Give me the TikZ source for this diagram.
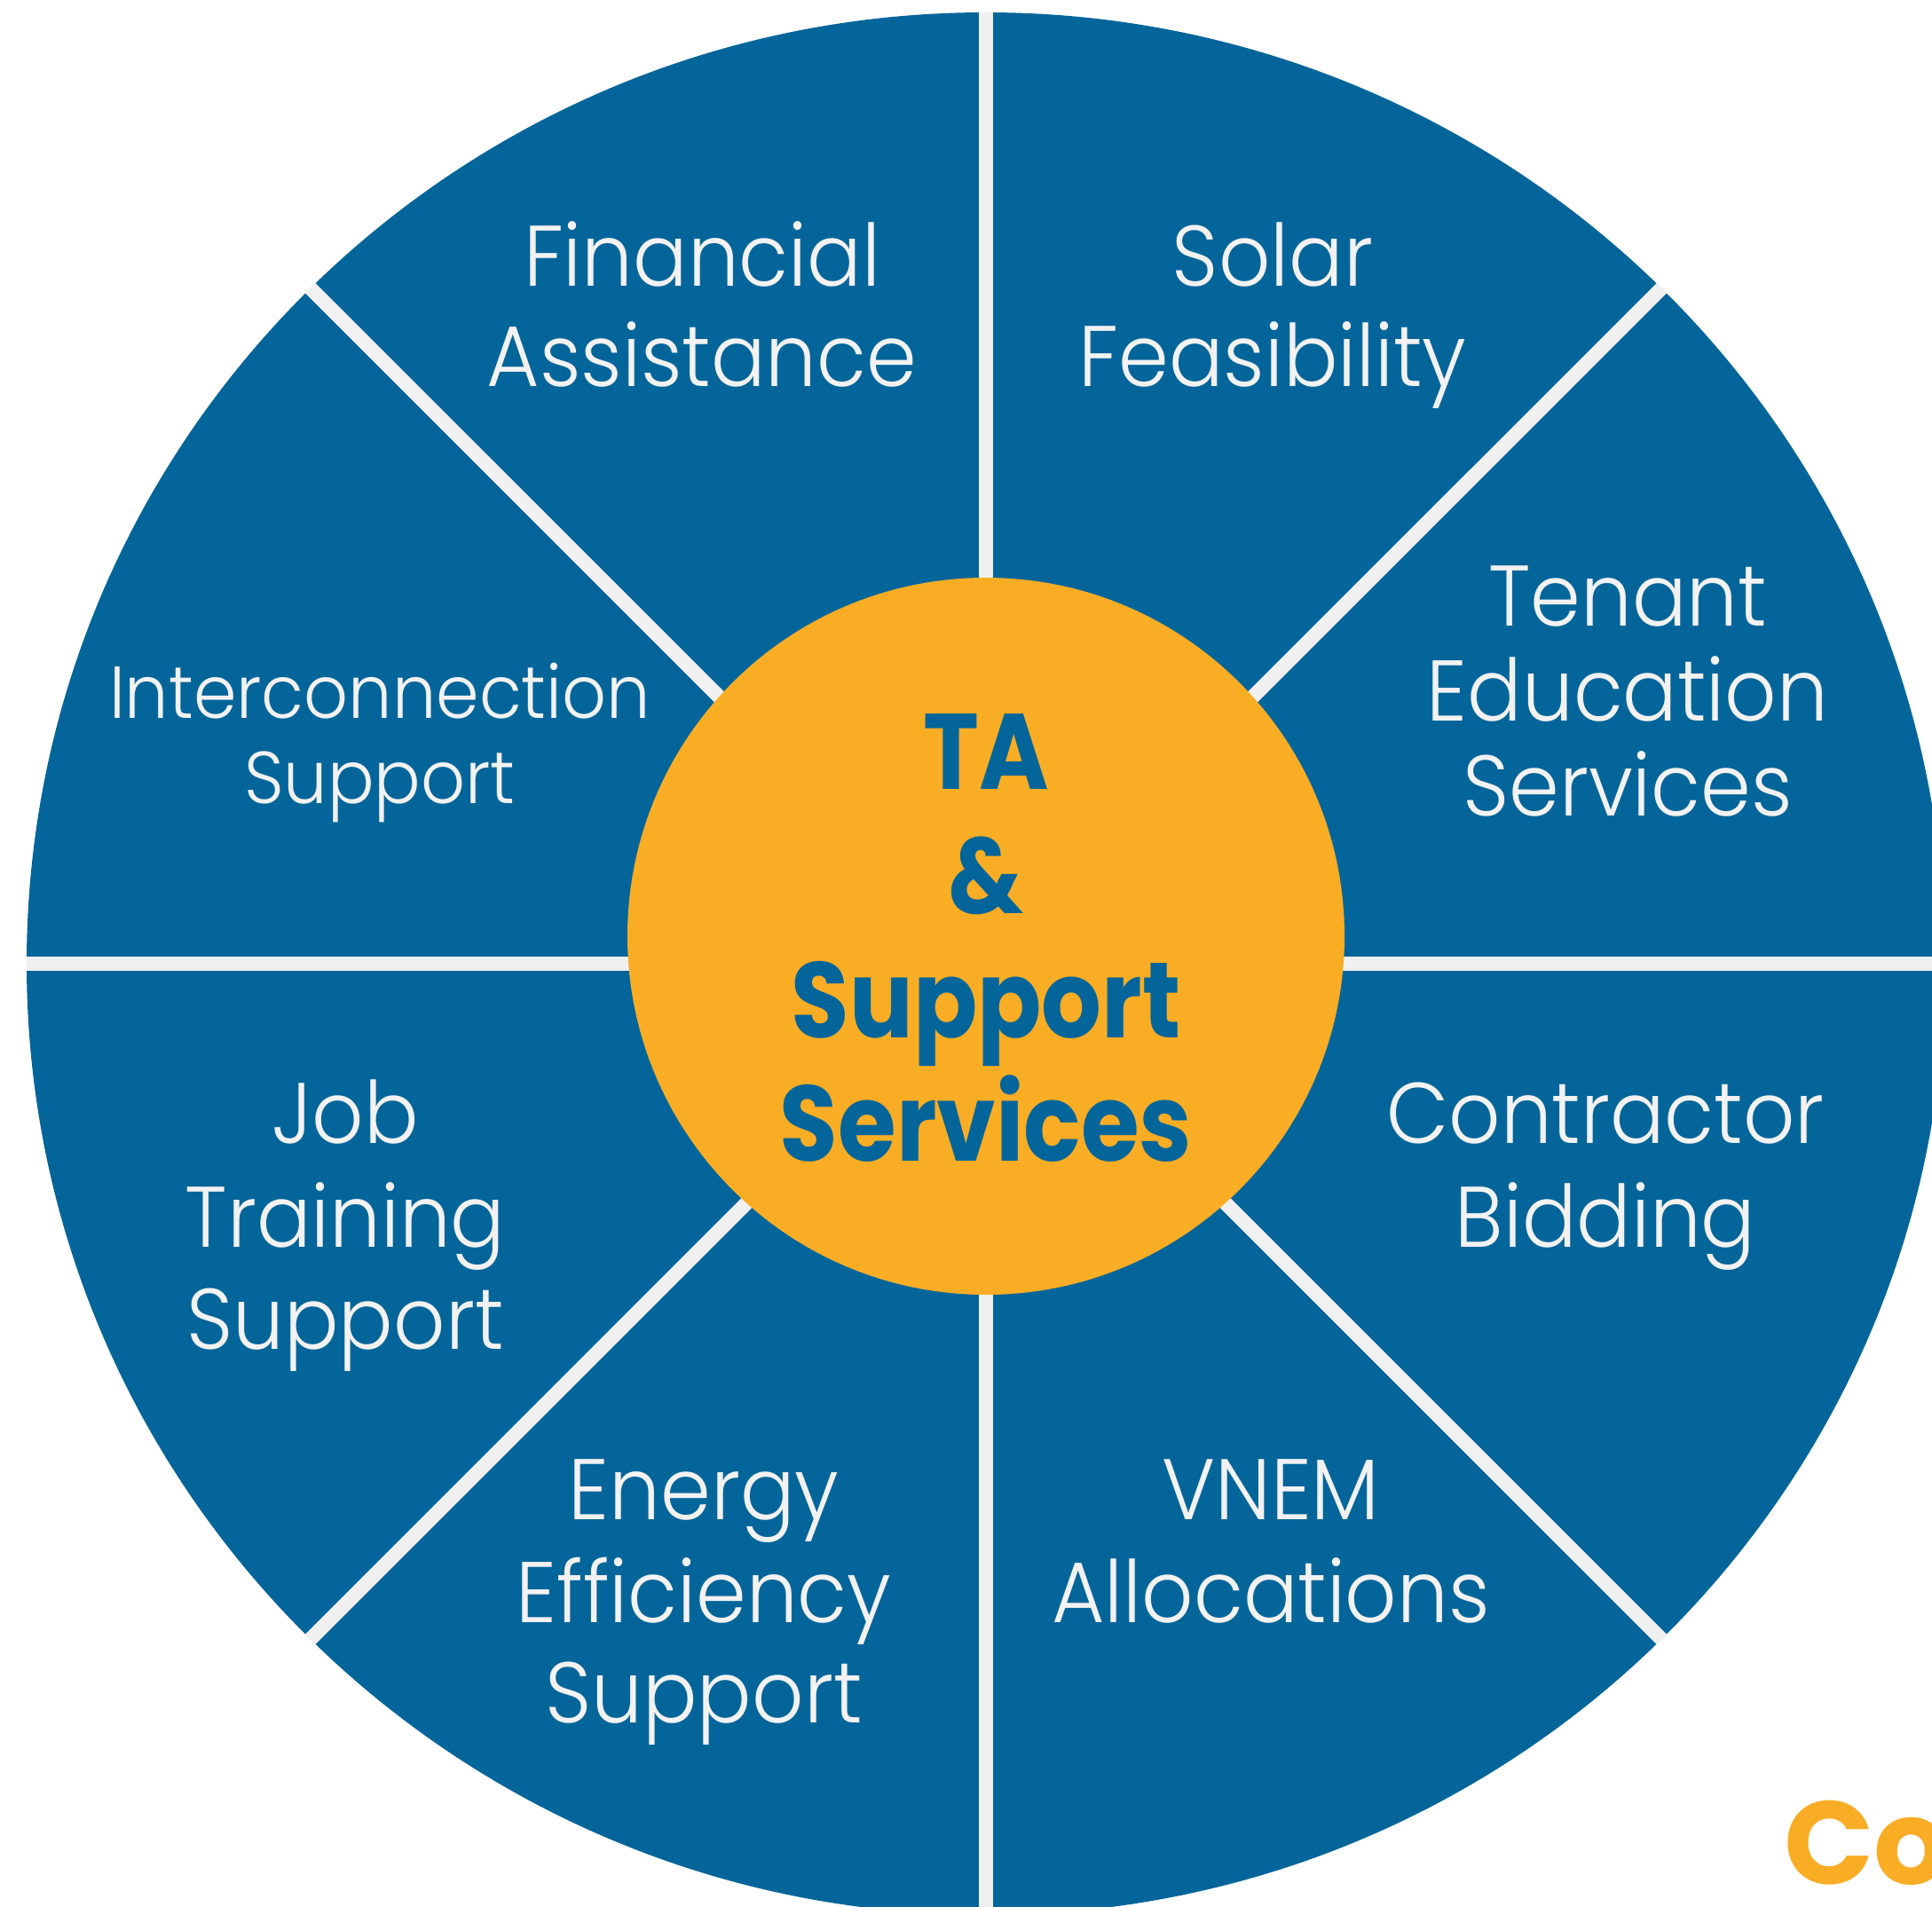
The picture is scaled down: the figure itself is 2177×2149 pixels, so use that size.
\documentclass[tikz,border=0pt]{standalone}
\usepackage{fontspec}
\usetikzlibrary{shapes.geometric}
\IfFontExistsTF{Poppins Light}{\newfontfamily\outerfont{Poppins Light}[FakeStretch=0.94]}{\newfontfamily\outerfont{Poppins}[FakeStretch=0.94]}
\newfontfamily\innerfont{Poppins}[FakeStretch=0.88]
\newfontfamily\cofont{Poppins}
\definecolor{wblue}{HTML}{04659A}
\definecolor{worange}{HTML}{F9AD25}
\definecolor{wline}{HTML}{F0F0F0}
\definecolor{wtext}{HTML}{F2F2F2}
\tikzset{
  outerlbl/.style={text=wtext, font=\outerfont\fontsize{97}{100}\selectfont, anchor=base, inner sep=0pt},
  smalllbl/.style={outerlbl, font=\outerfont\fontsize{83}{90}\selectfont},
  innerlbl/.style={text=wblue, font=\innerfont\bfseries\fontsize{121}{121}\selectfont, anchor=base, inner sep=0pt},
  seprule/.style={draw=wline, line width=16pt},
}
\begin{document}
\begin{tikzpicture}[x=1pt,y=-1pt]
\useasboundingbox (0,0) rectangle (2177,2149);
\begin{scope}
\clip (0,0) rectangle (2177,2149);
\node (disc) [ellipse, fill=wblue, minimum width=2162pt, minimum height=2144pt, inner sep=0pt] at (1111,1086) {};
\foreach \a in {0,45,90,135,180,225,270,315}
  \draw[seprule] (disc.center) -- (disc.\a);
\node (hub) [circle, fill=worange, minimum size=808pt, inner sep=0pt] at (1111,1055) {};
\node (co) [anchor=base west, inner sep=0pt, text=worange, font=\cofont\fontsize{133}{133}\selectfont\fontseries{sb}\selectfont] at (2010,2123) {Co};
\end{scope}
% outer labels
\node (fa1) [outerlbl] at (791,322) {Financial};
\node (fa2) [outerlbl] at (791,435) {Assistance};
\node (sf1) [outerlbl] at (1434,322) {Solar};
\node (sf2) [outerlbl] at (1434,435) {Feasibility};
\node (te1) [outerlbl] at (1834,705) {Tenant};
\node (te2) [outerlbl] at (1834,812) {Education};
\node (te3) [outerlbl] at (1834,919) {Services};
\node (ic1) [smalllbl] at (428,809) {Interconnection};
\node (ic2) [smalllbl] at (428,905) {Support};
\node (jt1) [outerlbl] at (389,1288) {Job};
\node (jt2) [outerlbl] at (389,1405) {Training};
\node (jt3) [outerlbl] at (389,1520) {Support};
\node (cb1) [outerlbl] at (1809,1288) {Contractor};
\node (cb2) [outerlbl] at (1809,1405) {Bidding};
\node (ee1) [outerlbl] at (793,1712) {Energy};
\node (ee2) [outerlbl] at (793,1828) {Efficiency};
\node (ee3) [outerlbl] at (793,1941) {Support};
\node (va1) [outerlbl] at (1432,1712) {VNEM};
\node (va2) [outerlbl] at (1432,1828) {Allocations};
% hub labels
\node (h1) [innerlbl] at (1111,889) {TA};
\node (h2) [innerlbl] at (1111,1029) {\&};
\node (h3) [innerlbl] at (1111,1169) {Support};
\node (h4) [innerlbl] at (1111,1308) {Services};
\end{tikzpicture}
\end{document}
